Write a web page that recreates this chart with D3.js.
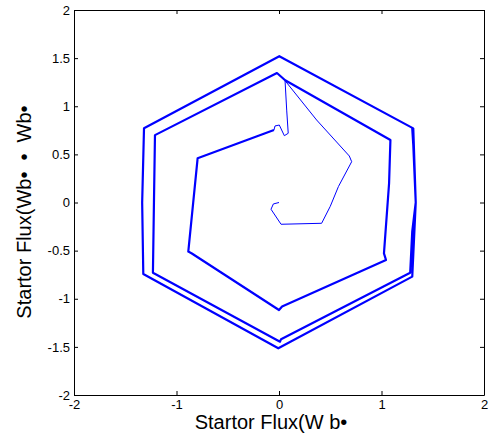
<!DOCTYPE html>
<meta charset="utf-8">
<style>
body { margin: 0; background: #fff; }
svg { display: block; font-family: Arial, "Liberation Sans", sans-serif; }
.axis text { font-size: 13px; fill: #000; }
.axis path, .axis line { stroke: #000; }
.trace { fill: none; stroke: #0000ff; stroke-linejoin: round; }
.title { white-space: pre; }
</style>
<body>
<svg width="494" height="438"></svg>
<script src="https://d3js.org/d3.v7.min.js"></script>
<script>

// tick labels
var xTicks = [-2, -1, 0, 1, 2];
var yTicks = [-2, -1.5, -1, -0.5, 0, 0.5, 1, 1.5, 2];

// start-up transient of the flux locus (thin line)
var transientAlpha = [0.0, -0.055, -0.078, 0.02, 0.416, 0.50, 0.58, 0.709, 0.686, 0.367, 0.059, 0.075, 0.09, 0.052, 0.003, -0.039, -0.049];
var transientBeta  = [0.0, -0.015, -0.07, -0.226, -0.216, -0.04, 0.166, 0.424, 0.483, 0.857, 1.266, 0.96, 0.719, 0.694, 0.805, 0.795, 0.753];

// hexagonal spiral once switching has settled
var spiralAlpha = [-0.049, -0.794, -0.885, -0.85, 0.0, 0.03, 1.044, 1.024, 1.074, 1.087, 0.06, -0.02,
                   -1.21, -1.22, -1.23, 0.01, 0.02, 1.28, 1.30, 1.334, 1.31, 0.003,
                   -1.317, -1.335, -1.324, -0.007, 1.30, 1.334, 1.31, 1.30];
var spiralBeta  = [0.753, 0.459, -0.51, -0.53, -1.117, -1.08, -0.597, -0.528, 0.2, 0.649, 1.27, 1.345,
                   0.70, 0.0, -0.73, -1.446, -1.42, -0.73, -0.3, 0.0, 0.77, 1.52,
                   0.771, 0.0, -0.743, -1.515, -0.77, 0.0, 0.6, 0.77];

var svg = d3.select("svg"),
    margin = {top: 10, right: 10, bottom: 43, left: 74},
    width = 494 - margin.left - margin.right,
    height = 438 - margin.top - margin.bottom,
    g = svg.append("g").attr("transform", "translate(" + margin.left + "," + margin.top + ")");

var x = d3.scaleLinear().domain([-2, 2]).range([0, width]);
var y = d3.scaleLinear().domain([-2, 2]).range([height, 0]);

var fmt = function(d) { return String(d); };

// axes: ticks point inward on all four sides, like a matlab box
g.append("g")
    .attr("class", "axis")
    .attr("transform", "translate(0," + height + ")")
    .call(d3.axisBottom(x).tickValues(xTicks).tickFormat(fmt).tickSizeInner(-4).tickSizeOuter(0).tickPadding(5));

g.append("g")
    .attr("class", "axis")
    .call(d3.axisLeft(y).tickValues(yTicks).tickFormat(fmt).tickSizeInner(-4).tickSizeOuter(0).tickPadding(4));

g.append("g")
    .attr("class", "axis")
    .call(d3.axisTop(x).tickValues(xTicks).tickFormat("").tickSizeInner(-4).tickSizeOuter(0));

g.append("g")
    .attr("class", "axis")
    .attr("transform", "translate(" + width + ",0)")
    .call(d3.axisRight(y).tickValues(yTicks).tickFormat("").tickSizeInner(-4).tickSizeOuter(0));

g.selectAll(".axis text").style("font-size", "13px");

var line = d3.line()
    .x(function(d) { return x(d[0]); })
    .y(function(d) { return y(d[1]); });

var transient = transientAlpha.map(function(a, i) { return [a, transientBeta[i]]; });
var spiral = spiralAlpha.map(function(a, i) { return [a, spiralBeta[i]]; });

g.append("path")
    .attr("class", "trace")
    .attr("stroke-width", 1)
    .attr("d", line(transient));

g.append("path")
    .attr("class", "trace")
    .attr("stroke-width", 2.2)
    .attr("d", line(spiral));

// axis titles
svg.append("text")
    .attr("class", "title")
    .attr("x", 271)
    .attr("y", 429)
    .attr("text-anchor", "middle")
    .style("font-size", "20px")
    .text("Startor Flux(W b\u2022");

svg.append("text")
    .attr("class", "title")
    .attr("transform", "translate(31,212) rotate(-90)")
    .attr("text-anchor", "middle")
    .style("font-size", "20px")
    .text("Startor Flux(Wb\u2022  \u2022  Wb\u2022");

</script>
</body>
